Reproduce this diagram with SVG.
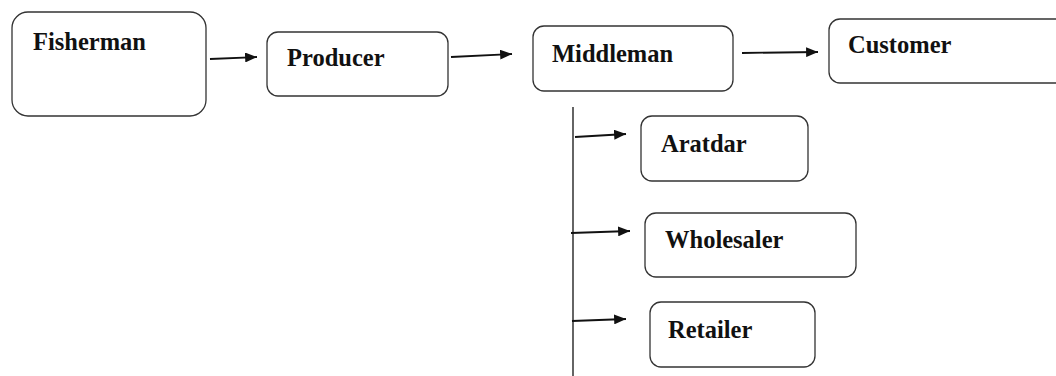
<svg xmlns="http://www.w3.org/2000/svg" width="1056" height="376" viewBox="0 0 1056 376">
<style>
.box{fill:#fff;stroke:#333;stroke-width:1.3}
.lbl{font-family:"Liberation Serif","Times New Roman",serif;font-weight:bold;font-size:24.5px;fill:#111}
.con{stroke:#111;stroke-width:1.8;fill:none}
</style>
<defs>
<marker id="ah" viewBox="0 0 12 10" refX="12" refY="5" markerWidth="7" markerHeight="5.5" orient="auto" markerUnits="strokeWidth">
<path d="M0,0 L12,5 L0,10 z" fill="#111"/>
</marker>
</defs>
<rect width="1056" height="376" fill="#fff"/>
<g id="fisherman"><rect class="box" x="12" y="12" width="194" height="104" rx="16"/><text class="lbl" x="33" y="50">Fisherman</text></g>
<g id="producer"><rect class="box" x="267" y="32" width="181" height="64" rx="11"/><text class="lbl" x="287" y="66">Producer</text></g>
<g id="middleman"><rect class="box" x="533" y="26" width="200" height="65" rx="11"/><text class="lbl" x="552" y="62">Middleman</text></g>
<g id="customer"><rect class="box" x="829" y="19" width="240" height="64" rx="11"/><text class="lbl" x="848" y="53">Customer</text></g>
<g id="aratdar"><rect class="box" x="641" y="116" width="167" height="65" rx="11"/><text class="lbl" x="661" y="152">Aratdar</text></g>
<g id="wholesaler"><rect class="box" x="645" y="213" width="211" height="64" rx="11"/><text class="lbl" x="665" y="248">Wholesaler</text></g>
<g id="retailer"><rect class="box" x="650" y="302" width="165" height="65" rx="11"/><text class="lbl" x="668" y="338">Retailer</text></g>
<g id="connectors">
<line class="con" x1="210" y1="59" x2="257" y2="57" marker-end="url(#ah)"/>
<line class="con" x1="451" y1="57" x2="512" y2="54" marker-end="url(#ah)"/>
<line class="con" x1="742" y1="53" x2="818" y2="52" marker-end="url(#ah)"/>
<line x1="573" y1="107" x2="573" y2="376" stroke="#111" stroke-width="1.3"/>
<line class="con" x1="575" y1="137" x2="626" y2="134" marker-end="url(#ah)"/>
<line class="con" x1="571" y1="233" x2="630" y2="231" marker-end="url(#ah)"/>
<line class="con" x1="572" y1="321" x2="626" y2="319" marker-end="url(#ah)"/>
</g>
</svg>
